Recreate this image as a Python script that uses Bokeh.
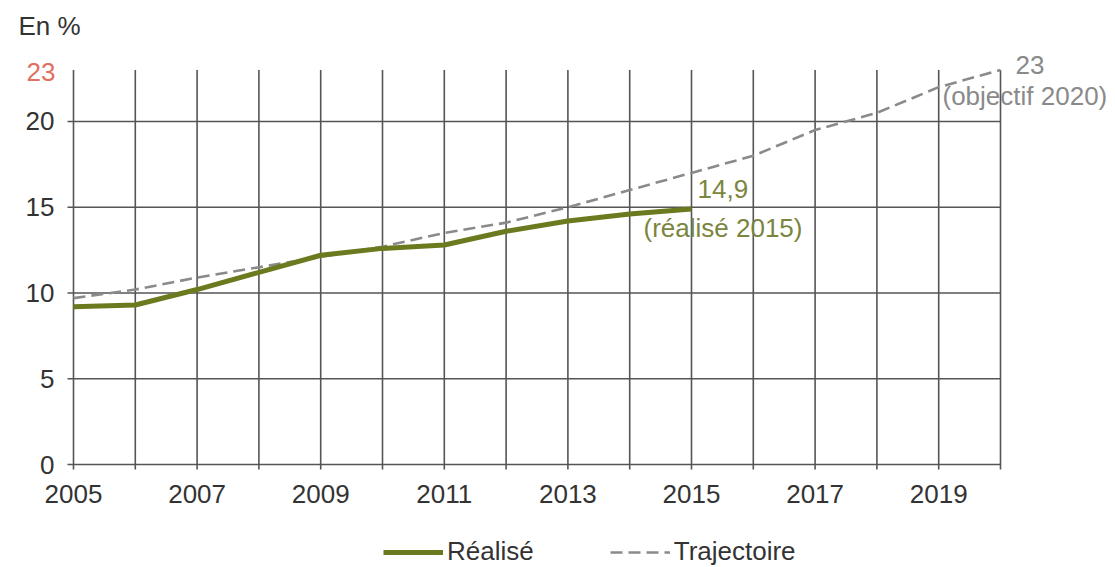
from bokeh.plotting import figure
from bokeh.models import Label, Legend, LegendItem, Range1d
from bokeh.core.properties import value
from bokeh.embed import file_html
from bokeh.resources import INLINE

# ---- data ----
years_realise = [2005, 2006, 2007, 2008, 2009, 2010, 2011, 2012, 2013, 2014, 2015]
realise = [9.2, 9.3, 10.2, 11.2, 12.2, 12.6, 12.8, 13.6, 14.2, 14.6, 14.9]

years_traj = [2005, 2006, 2007, 2008, 2009, 2010, 2011, 2012, 2013, 2014, 2015,
              2016, 2017, 2018, 2019, 2020]
trajectoire = [9.7, 10.2, 10.9, 11.5, 12.1, 12.7, 13.5, 14.1, 15.0, 16.0, 17.0,
               18.0, 19.5, 20.5, 22.0, 23.0]

all_years = list(range(2005, 2021))
x_label_years = [2005, 2007, 2009, 2011, 2013, 2015, 2017, 2019]
x_labels = [str(y) for y in x_label_years]
y_ticks = [0, 5, 10, 15, 20]
y_labels = [str(v) for v in y_ticks]
y_target = 23

unit_label = "En %"
realise_label = "Réalisé"
traj_label = "Trajectoire"
realise_last_text = "14,9"
realise_last_note = "(réalisé 2015)"
target_text = "23"
target_note = "(objectif 2020)"

# ---- layout (pixels) ----
W, H = 1115, 567
PX_LEFT, PX_RIGHT, PX_TOP, PX_BOTTOM = 73, 1000, 69.5, 464
x_min, x_max = all_years[0], all_years[-1]
y_min, y_max = 0, y_target
xs = (PX_RIGHT - PX_LEFT) / (x_max - x_min)
ys = (PX_BOTTOM - PX_TOP) / (y_max - y_min)
x_range = Range1d(x_min - PX_LEFT / xs, x_max + (W - PX_RIGHT) / xs)
y_range = Range1d(y_min - (H - PX_BOTTOM) / ys, y_max + PX_TOP / ys)

FONT = "Liberation Sans"
GRID = "#555555"
GREEN = "#6b7a1f"
GRAY = "#8a8a8a"
TXT = "#333333"
FS = "26px"

p = figure(width=W, height=H, output_backend="svg", toolbar_location=None,
           x_range=x_range, y_range=y_range, title=None,
           x_axis_location=None, y_axis_location=None,
           min_border=0, min_border_left=0, min_border_right=0,
           min_border_top=0, min_border_bottom=0)
p.outline_line_color = None
p.grid.visible = False
p.background_fill_color = "white"
p.border_fill_color = "white"

# grid lines (with outer tick marks)
tick_x = 6 / xs
tick_y = 5 / ys
p.segment(x0=[x_min - tick_x] * len(y_ticks), y0=y_ticks,
          x1=[x_max] * len(y_ticks), y1=y_ticks,
          line_color=GRID, line_width=1.6)
p.segment(x0=all_years, y0=[y_min - tick_y] * len(all_years),
          x1=all_years, y1=[y_max] * len(all_years),
          line_color=GRID, line_width=1.6)

# data lines
r_traj = p.line(years_traj, trajectoire, line_color=GRAY, line_width=2.6,
                line_dash="12 6")
r_real = p.line(years_realise, realise, line_color=GREEN, line_width=5)

# tick labels
p.text(x=[x_min] * len(y_ticks), y=y_ticks, text=y_labels, x_offset=-19,
       text_align="right", text_baseline="middle", text_font=value(FONT),
       text_font_size=FS, text_color=TXT)
p.text(x=x_label_years, y=[y_min] * len(x_label_years), text=x_labels, y_offset=29,
       text_align="center", text_baseline="middle", text_font=value(FONT),
       text_font_size=FS, text_color=TXT)

# labels
p.add_layout(Label(x=x_min, y=y_target, text=unit_label, x_offset=-55, y_offset=44,
                   text_align="left", text_baseline="middle", text_font=FONT,
                   text_font_size=FS, text_color=TXT))
p.add_layout(Label(x=x_min, y=y_target, text=str(y_target), x_offset=-18, y_offset=-2,
                   text_align="right", text_baseline="middle", text_font=FONT,
                   text_font_size=FS, text_color="#e07060"))

p.add_layout(Label(x=years_realise[-1], y=realise[-1], text=realise_last_text,
                   x_offset=6, y_offset=20, text_align="left", text_baseline="middle",
                   text_font=FONT, text_font_size=FS, text_color="#7a8540"))
p.add_layout(Label(x=years_realise[-1], y=realise[-1], text=realise_last_note,
                   x_offset=-48, y_offset=-19, text_align="left", text_baseline="middle",
                   text_font=FONT, text_font_size=FS, text_color="#7a8540"))

p.add_layout(Label(x=years_traj[-1], y=trajectoire[-1], text=target_text,
                   x_offset=15, y_offset=5, text_align="left", text_baseline="middle",
                   text_font=FONT, text_font_size=FS, text_color="#8a8a8a"))
p.add_layout(Label(x=years_traj[-1], y=trajectoire[-1], text=target_note,
                   x_offset=-58, y_offset=-26, text_align="left", text_baseline="middle",
                   text_font=FONT, text_font_size=FS, text_color="#8a8a8a"))

# legend
legend = Legend(items=[LegendItem(label=realise_label, renderers=[r_real]),
                       LegendItem(label=traj_label, renderers=[r_traj])],
                orientation="horizontal", location=(383, 0),
                padding=0, margin=0, spacing=76, label_standoff=4,
                glyph_width=60, glyph_height=26, label_height=26,
                border_line_color=None, background_fill_alpha=0,
                label_text_font=FONT, label_text_font_size=FS,
                label_text_color=TXT)
p.add_layout(legend)

open("out.html", "w").write(file_html(p, INLINE))
